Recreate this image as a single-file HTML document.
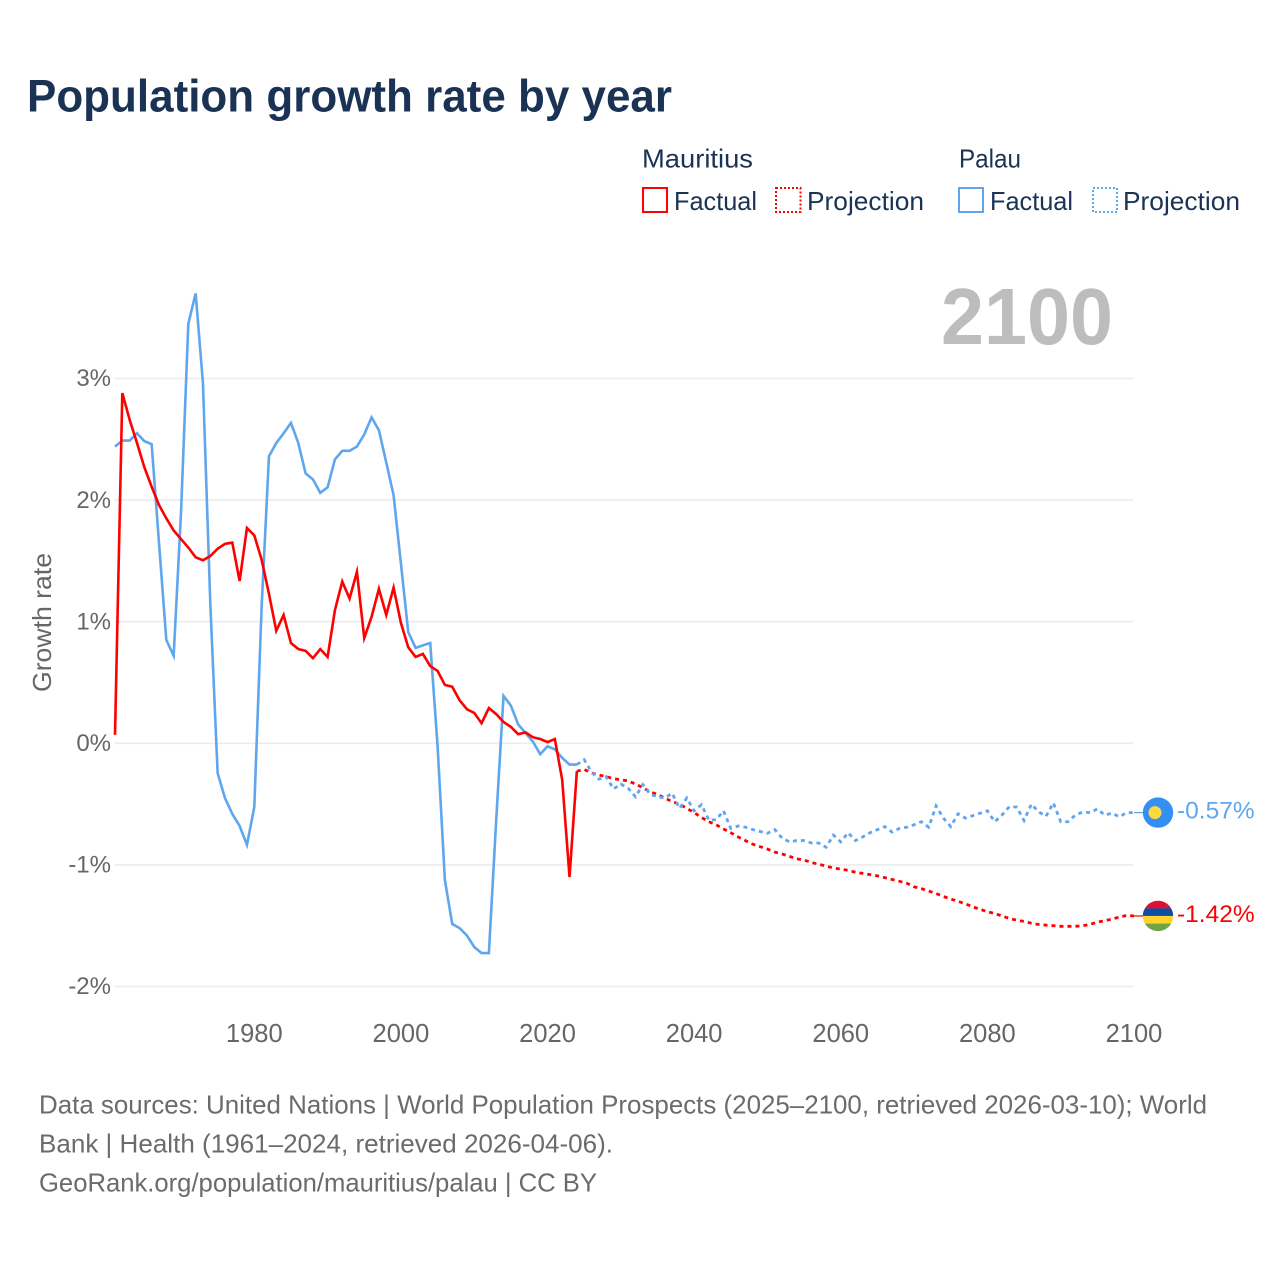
<!DOCTYPE html>
<html lang="en">
<head>
<meta charset="utf-8">
<title>Population growth rate by year</title>
<style>
  html, body { margin: 0; padding: 0; background: #fff; }
  svg { display: block; }
  text { font-family: "Liberation Sans", sans-serif; }
</style>
</head>
<body>
<svg id="chart" xmlns="http://www.w3.org/2000/svg" width="1280" height="1280" viewBox="0 0 1280 1280">
  <rect x="0" y="0" width="1280" height="1280" fill="#fff"/>
  <text x="27" y="111.5" font-size="45" font-weight="700" fill="#1a3355" textLength="645" lengthAdjust="spacingAndGlyphs">Population growth rate by year</text>

  <g font-size="26" fill="#1a3355">
    <text x="642" y="167.5" textLength="111" lengthAdjust="spacingAndGlyphs">Mauritius</text>
    <rect x="643" y="188" width="24" height="24" fill="none" stroke="#ff0000" stroke-width="2"/>
    <text x="674" y="210" textLength="83" lengthAdjust="spacingAndGlyphs">Factual</text>
    <rect x="776" y="188" width="24.5" height="24" fill="none" stroke="#ff0000" stroke-width="2" stroke-dasharray="2 2"/>
    <text x="807" y="210" textLength="117" lengthAdjust="spacingAndGlyphs">Projection</text>

    <text x="959" y="167.5" textLength="62" lengthAdjust="spacingAndGlyphs">Palau</text>
    <rect x="959" y="188" width="24" height="24" fill="none" stroke="#5fa6ee" stroke-width="2"/>
    <text x="990" y="210" textLength="83" lengthAdjust="spacingAndGlyphs">Factual</text>
    <rect x="1093" y="188" width="24" height="24" fill="none" stroke="#5fa6ee" stroke-width="2" stroke-dasharray="2 2"/>
    <text x="1123" y="210" textLength="117" lengthAdjust="spacingAndGlyphs">Projection</text>
  </g>

  <text x="1113" y="344" text-anchor="end" font-size="80" font-weight="700" fill="#bdbdbd" textLength="172" lengthAdjust="spacingAndGlyphs">2100</text>
  <text transform="translate(51,622.5) rotate(-90)" text-anchor="middle" font-size="26" fill="#666" textLength="139" lengthAdjust="spacingAndGlyphs">Growth rate</text>

  <g id="grid"></g>
  <g id="yticks"></g>
  <g id="xticks"></g>
  <g id="series"></g>
  <g id="ends"></g>

  <g font-size="26" fill="#6b6b6b">
    <text x="39" y="1113.5" textLength="1168" lengthAdjust="spacingAndGlyphs">Data sources: United Nations | World Population Prospects (2025–2100, retrieved 2026-03-10); World</text>
    <text x="39" y="1152.5" textLength="574" lengthAdjust="spacingAndGlyphs">Bank | Health (1961–2024, retrieved 2026-04-06).</text>
    <text x="39" y="1191.5" textLength="558" lengthAdjust="spacingAndGlyphs">GeoRank.org/population/mauritius/palau | CC BY</text>
  </g>
</svg>

<script>
const startYear = 1961;
const endYear = 2100;
const lastFactualYear = 2024;
const yTickValues = [3, 2, 1, 0, -1, -2];
const yTickLabels = ["3%", "2%", "1%", "0%", "-1%", "-2%"];
const xTickValues = [1980, 2000, 2020, 2040, 2060, 2080, 2100];
const xTickLabels = ["1980", "2000", "2020", "2040", "2060", "2080", "2100"];

// Growth rate in percent, 1961 to 2024
const mauritiusFactual = [
  0.07, 2.88, 2.66, 2.47, 2.27, 2.11, 1.96, 1.85, 1.75, 1.68,
  1.61, 1.53, 1.505, 1.54, 1.60, 1.64, 1.65, 1.335, 1.77, 1.71,
  1.51, 1.23, 0.925, 1.055, 0.825, 0.775, 0.76, 0.70, 0.775, 0.71,
  1.095, 1.33, 1.19, 1.41, 0.865, 1.04, 1.27, 1.055, 1.28, 0.99,
  0.79, 0.71, 0.735, 0.635, 0.595, 0.48, 0.465, 0.355, 0.28, 0.25,
  0.165, 0.29, 0.24, 0.175, 0.135, 0.075, 0.09, 0.05, 0.035, 0.01,
  0.035, -0.30, -1.10, -0.23
];
// Growth rate in percent, 2024 to 2100
const mauritiusProjection = [
  -0.23, -0.215, -0.245, -0.26, -0.275, -0.29, -0.30, -0.31, -0.335, -0.365,
  -0.40, -0.42, -0.45, -0.48, -0.50, -0.535, -0.57, -0.61, -0.645, -0.67,
  -0.705, -0.735, -0.77, -0.80, -0.83, -0.85, -0.87, -0.895, -0.91, -0.93,
  -0.95, -0.96, -0.98, -0.995, -1.01, -1.025, -1.035, -1.045, -1.06, -1.07,
  -1.08, -1.09, -1.105, -1.12, -1.135, -1.15, -1.18, -1.195, -1.215, -1.235,
  -1.26, -1.28, -1.30, -1.32, -1.345, -1.365, -1.385, -1.40, -1.42, -1.44,
  -1.455, -1.465, -1.48, -1.49, -1.495, -1.50, -1.505, -1.505, -1.505, -1.50,
  -1.49, -1.47, -1.46, -1.445, -1.43, -1.415, -1.42
];
// Growth rate in percent, 1961 to 2024
const palauFactual = [
  2.44, 2.49, 2.49, 2.55, 2.485, 2.46, 1.65, 0.85, 0.72, 1.89,
  3.45, 3.70, 2.96, 1.15, -0.245, -0.45, -0.58, -0.68, -0.835, -0.525,
  1.12, 2.36, 2.47, 2.55, 2.635, 2.47, 2.22, 2.17, 2.06, 2.105,
  2.335, 2.405, 2.405, 2.44, 2.54, 2.68, 2.575, 2.31, 2.04, 1.48,
  0.915, 0.785, 0.805, 0.825, -0.02, -1.125, -1.485, -1.52, -1.58, -1.675,
  -1.725, -1.725, -0.63, 0.39, 0.31, 0.155, 0.085, 0.015, -0.09, -0.025,
  -0.05, -0.12, -0.175, -0.175
];
// Growth rate in percent, 2024 to 2100
const palauProjection = [
  -0.175, -0.135, -0.235, -0.295, -0.275, -0.375, -0.335, -0.37, -0.44, -0.34,
  -0.42, -0.44, -0.45, -0.41, -0.535, -0.45, -0.555, -0.505, -0.63, -0.63,
  -0.555, -0.70, -0.68, -0.69, -0.71, -0.725, -0.74, -0.71, -0.78, -0.81,
  -0.80, -0.80, -0.82, -0.82, -0.855, -0.755, -0.81, -0.735, -0.80, -0.77,
  -0.735, -0.71, -0.685, -0.73, -0.70, -0.69, -0.67, -0.645, -0.69, -0.515,
  -0.615, -0.685, -0.58, -0.615, -0.595, -0.575, -0.555, -0.645, -0.59, -0.52,
  -0.525, -0.635, -0.50, -0.565, -0.60, -0.49, -0.645, -0.645, -0.59, -0.565,
  -0.57, -0.54, -0.59, -0.575, -0.605, -0.57, -0.57
];

const NS = "http://www.w3.org/2000/svg";
const RED = "#ff0000";
const BLUE = "#5fa6ee";

function xScale(year) {
  return 115 + (year - startYear) * (1134 - 115) / (endYear - startYear);
}
function yScale(value) {
  return 743.3 - value * 121.6;
}
function make(tag, attrs, parent) {
  const el = document.createElementNS(NS, tag);
  for (const k in attrs) el.setAttribute(k, attrs[k]);
  parent.appendChild(el);
  return el;
}
function pathFor(values, firstYear) {
  return values.map(function (v, i) {
    return (i ? "L" : "M") + xScale(firstYear + i).toFixed(2) + " " + yScale(v).toFixed(2);
  }).join(" ");
}

const grid = document.getElementById("grid");
const yticks = document.getElementById("yticks");
const xticks = document.getElementById("xticks");
const series = document.getElementById("series");
const ends = document.getElementById("ends");

yTickValues.forEach(function (v, i) {
  const line = make("line", { x1: 115, x2: 1133, y1: yScale(v), y2: yScale(v), stroke: "#ececec", "stroke-width": 1.6 }, grid);
  
  
  const t = make("text", { x: 111, y: yScale(v) + 7.7, "text-anchor": "end", "font-size": 24, fill: "#666" }, yticks);
  
  
  t.textContent = yTickLabels[i];
});

xTickValues.forEach(function (y, i) {
  const t = make("text", { x: xScale(y), y: 1042, "text-anchor": "middle", "font-size": 25.5, fill: "#666" }, xticks);
  
  
  t.textContent = xTickLabels[i];
});

const lineBase = { fill: "none", "stroke-width": 2.6, "stroke-linejoin": "miter", "stroke-miterlimit": 6 };
const dashBase = { fill: "none", "stroke-width": 2.8, "stroke-linejoin": "miter", "stroke-miterlimit": 6, "stroke-dasharray": "4 4" };

const palauSolid = make("path", Object.assign({ d: pathFor(palauFactual, startYear), stroke: BLUE }, lineBase), series);



const mauritiusSolid = make("path", Object.assign({ d: pathFor(mauritiusFactual, startYear), stroke: RED }, lineBase), series);



const mauritiusDash = make("path", Object.assign({ d: pathFor(mauritiusProjection, lastFactualYear), stroke: RED }, dashBase), series);



const palauDash = make("path", Object.assign({ d: pathFor(palauProjection, lastFactualYear), stroke: BLUE }, dashBase), series);



const palauLast = palauProjection[palauProjection.length - 1];
const mauritiusLast = mauritiusProjection[mauritiusProjection.length - 1];
const palauY = yScale(palauLast);
const mauritiusY = yScale(mauritiusLast);
const endX = xScale(endYear);
const flagX = endX + 24;

const palauLeader = make("line", { x1: endX, x2: flagX - 15, y1: palauY, y2: palauY, stroke: BLUE, "stroke-width": 1.2 }, ends);



const mauritiusLeader = make("line", { x1: endX, x2: flagX - 15, y1: mauritiusY, y2: mauritiusY, stroke: RED, "stroke-width": 1.2 }, ends);



const palauFlag = make("g", {}, ends);


make("circle", { cx: flagX, cy: palauY, r: 15.2, fill: "#3390f2" }, palauFlag);
make("circle", { cx: flagX - 3, cy: palauY, r: 6.5, fill: "#ffd83d" }, palauFlag);

const clipDefs = make("defs", {}, ends);
const clip = make("clipPath", { id: "mauritius-clip" }, clipDefs);
make("circle", { cx: flagX, cy: mauritiusY, r: 15.2 }, clip);
const mauritiusFlag = make("g", { "clip-path": "url(#mauritius-clip)" }, ends);


make("rect", { x: flagX - 16, y: mauritiusY - 16, width: 32, height: 8.5, fill: "#dd1133" }, mauritiusFlag);
make("rect", { x: flagX - 16, y: mauritiusY - 7.6, width: 32, height: 7.6, fill: "#0b4ea2" }, mauritiusFlag);
make("rect", { x: flagX - 16, y: mauritiusY, width: 32, height: 7.6, fill: "#ffd42e" }, mauritiusFlag);
make("rect", { x: flagX - 16, y: mauritiusY + 7.6, width: 32, height: 8.5, fill: "#6fa544" }, mauritiusFlag);

const palauValue = make("text", { x: flagX + 19, y: palauY + 5.8, "font-size": 24.5, fill: BLUE }, ends);


palauValue.textContent = palauLast.toFixed(2) + "%";

const mauritiusValue = make("text", { x: flagX + 19, y: mauritiusY + 5.8, "font-size": 24.5, fill: RED }, ends);


mauritiusValue.textContent = mauritiusLast.toFixed(2) + "%";
</script>
</body>
</html>
